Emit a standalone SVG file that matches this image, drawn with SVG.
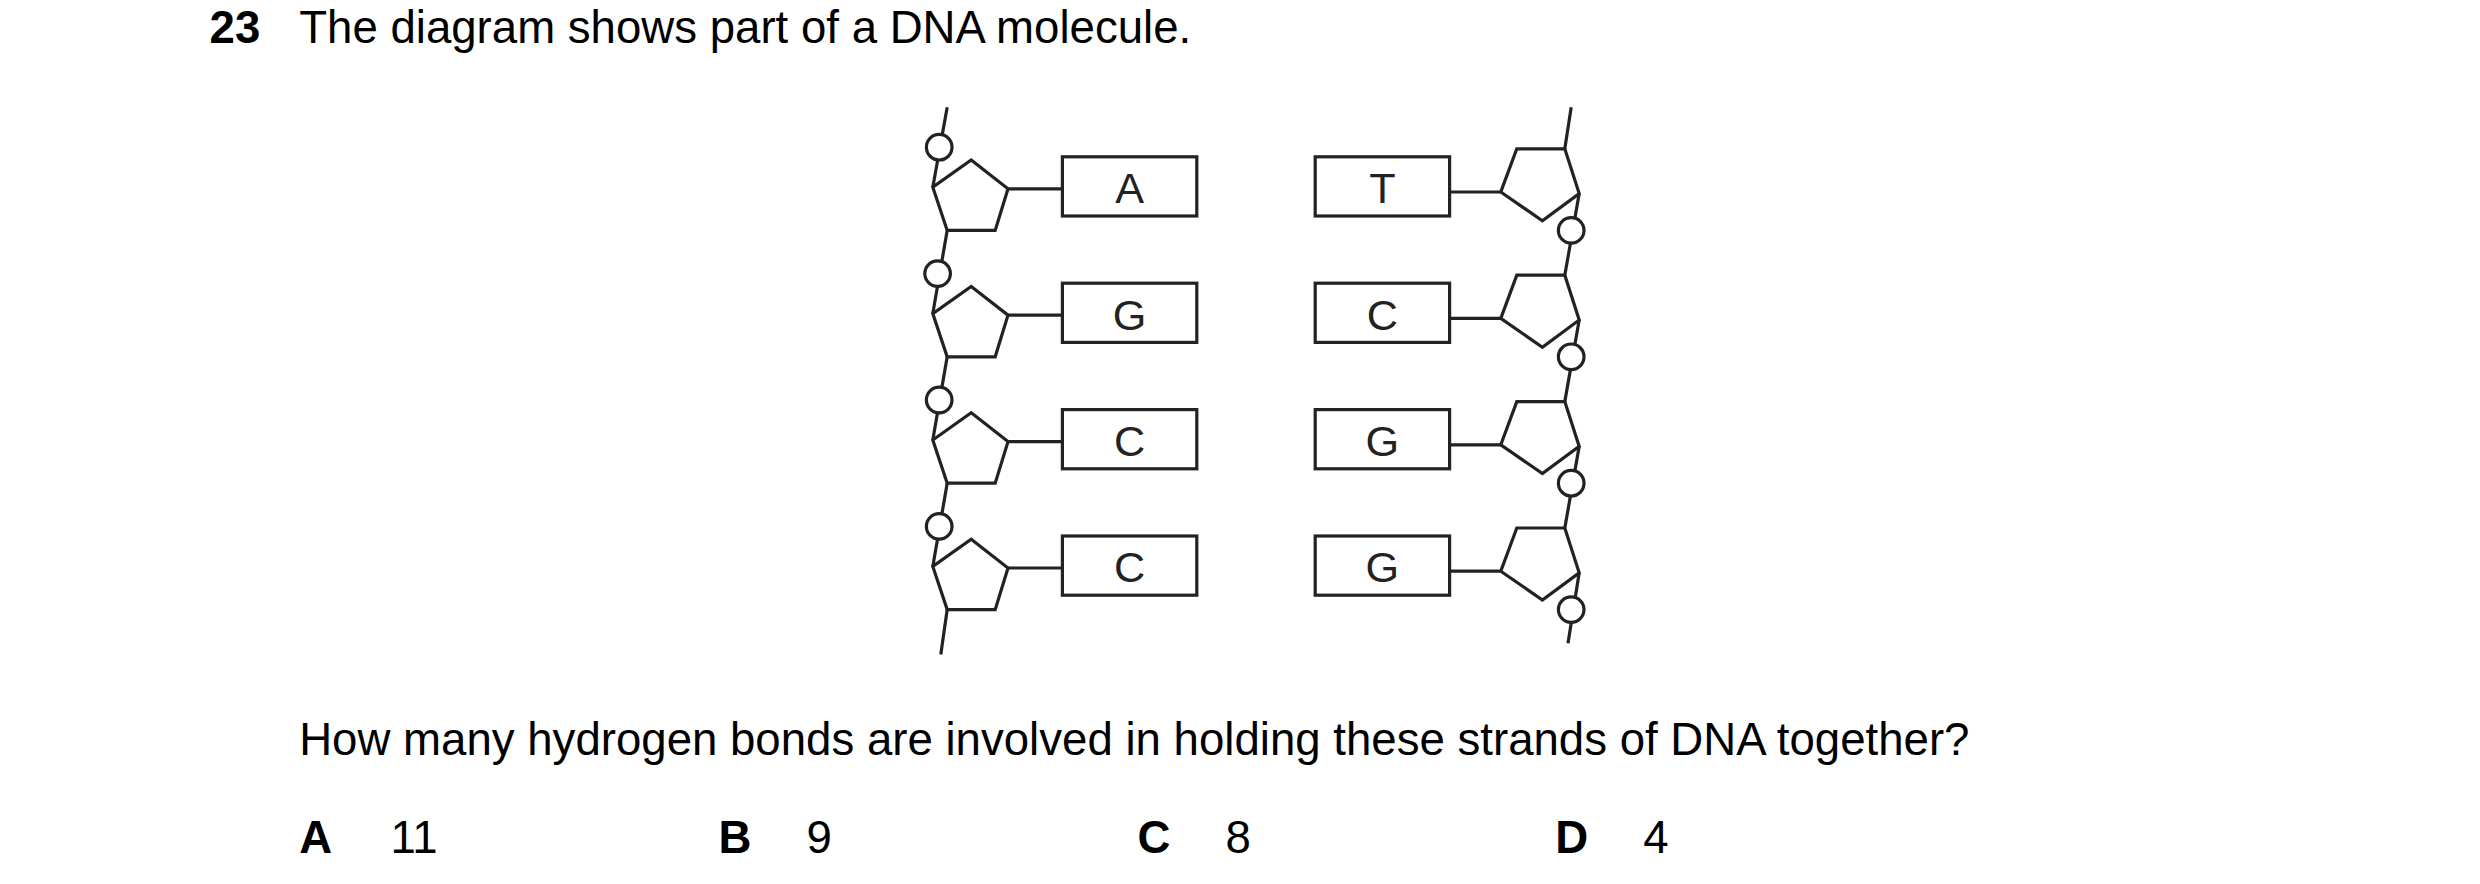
<svg xmlns="http://www.w3.org/2000/svg" width="2480" height="884" viewBox="0 0 2480 884">
<style>
.t{font-family:"Liberation Sans",Arial,sans-serif;font-size:28.5px;fill:#000}
.b{font-weight:bold}
.l{font-family:"Liberation Sans",Arial,sans-serif;font-size:27px;fill:#222;text-anchor:middle}
.s{fill:none;stroke:#222;stroke-width:2;stroke-linejoin:miter}
.c{fill:#fff;stroke:#222;stroke-width:2}
</style>
<defs>
<g id="lp"><polygon class="s" points="24,0 47,18 39,44 9,44 0,17"/></g>
<g id="rp"><polygon class="s" points="10,0 40,0 49,28 26,45 0,27"/></g>
</defs>
<rect width="2480" height="884" fill="#fff"/>
<g transform="scale(1.6)">
<text class="t b" x="131" y="27">23</text>
<text class="t" x="187" y="27">The diagram shows part of a DNA molecule.</text>
<g id="connectors">
<path class="s" d="M592,67 L583,117 M592,144 L583,196 M592,223 L583,275 M592,302 L583,354 M592,381 L588,409"/>
<path class="s" d="M982,67 L978,93 M987,121 L978,172 M987,200 L978,251 M987,279 L978,330 M987,358 L980,402"/>
<path class="s" d="M630,118 H664 M630,197 H664 M630,276 H664 M630,355 H664 M906,120 H938 M906,199 H938 M906,278 H938 M906,357 H938"/>
</g>
<g id="left-strand">
<use href="#lp" x="583" y="100"/><use href="#lp" x="583" y="179"/><use href="#lp" x="583" y="258"/><use href="#lp" x="583" y="337"/>
<circle class="c" cx="587" cy="92" r="8"/><circle class="c" cx="586" cy="171" r="8"/><circle class="c" cx="587" cy="250" r="8"/><circle class="c" cx="587" cy="329" r="8"/>
</g>
<g id="right-strand">
<use href="#rp" x="938" y="93"/><use href="#rp" x="938" y="172"/><use href="#rp" x="938" y="251"/><use href="#rp" x="938" y="330"/>
<circle class="c" cx="982" cy="144" r="8"/><circle class="c" cx="982" cy="223" r="8"/><circle class="c" cx="982" cy="302" r="8"/><circle class="c" cx="982" cy="381" r="8"/>
</g>
<g id="base-A"><rect class="s" x="664" y="98" width="84" height="37"/><text class="l" x="706" y="127">A</text></g>
<g id="base-G1"><rect class="s" x="664" y="177" width="84" height="37"/><text class="l" x="706" y="206">G</text></g>
<g id="base-C1"><rect class="s" x="664" y="256" width="84" height="37"/><text class="l" x="706" y="285">C</text></g>
<g id="base-C2"><rect class="s" x="664" y="335" width="84" height="37"/><text class="l" x="706" y="364">C</text></g>
<g id="base-T"><rect class="s" x="822" y="98" width="84" height="37"/><text class="l" x="864" y="127">T</text></g>
<g id="base-C3"><rect class="s" x="822" y="177" width="84" height="37"/><text class="l" x="864" y="206">C</text></g>
<g id="base-G2"><rect class="s" x="822" y="256" width="84" height="37"/><text class="l" x="864" y="285">G</text></g>
<g id="base-G3"><rect class="s" x="822" y="335" width="84" height="37"/><text class="l" x="864" y="364">G</text></g>
<text class="t" x="187" y="472">How many hydrogen bonds are involved in holding these strands of DNA together?</text>
<text class="t b" x="187" y="533">A</text><text class="t" x="244" y="533">11</text>
<text class="t b" x="449" y="533">B</text><text class="t" x="504" y="533">9</text>
<text class="t b" x="711" y="533">C</text><text class="t" x="766" y="533">8</text>
<text class="t b" x="972" y="533">D</text><text class="t" x="1027" y="533">4</text>
</g>
</svg>
